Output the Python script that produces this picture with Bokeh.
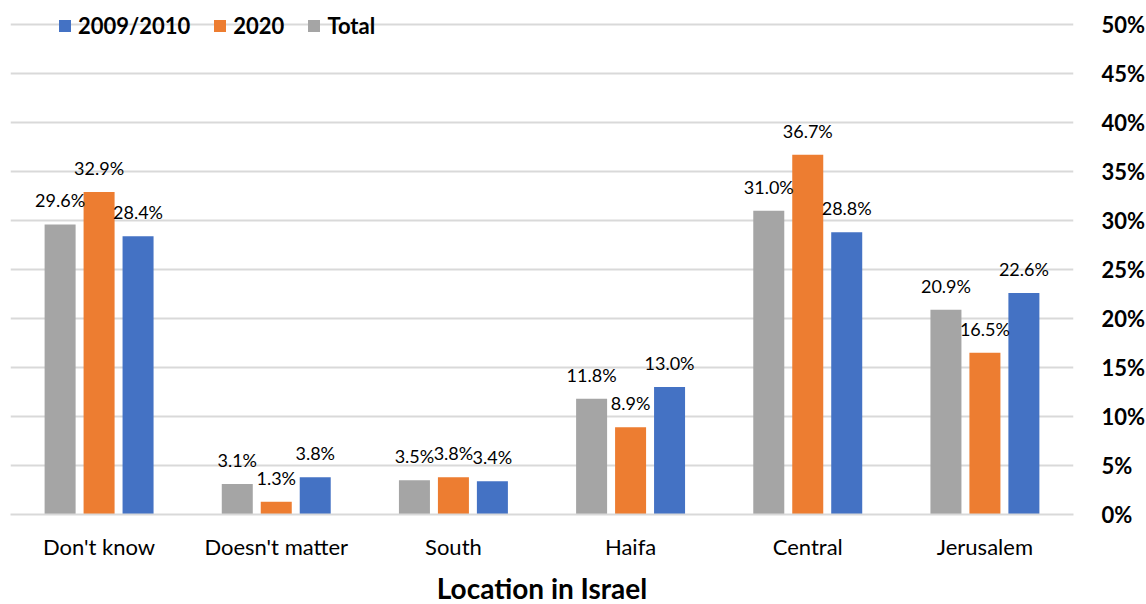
from bokeh.plotting import figure
from bokeh.models import ColumnDataSource, FactorRange, NumeralTickFormatter, Legend, LegendItem, LabelSet, FixedTicker
from bokeh.transform import dodge
from bokeh.core.properties import value
from bokeh.embed import file_html
from bokeh.resources import INLINE

categories = ["Don't know", "Doesn't matter", "South", "Haifa", "Central", "Jerusalem"]
total = [29.6, 3.1, 3.5, 11.8, 31.0, 20.9]
y2020 = [32.9, 1.3, 3.8, 8.9, 36.7, 16.5]
y2009 = [28.4, 3.8, 3.4, 13.0, 28.8, 22.6]
y_ticks = [0, 5, 10, 15, 20, 25, 30, 35, 40, 45, 50]

FONT = "Lato"
src = ColumnDataSource(dict(
    cat=categories,
    total=[v / 100 for v in total],
    y2020=[v / 100 for v in y2020],
    y2009=[v / 100 for v in y2009],
    total_lbl=[f"{v:.1f}%" for v in total],
    y2020_lbl=[f"{v:.1f}%" for v in y2020],
    y2009_lbl=[f"{v:.1f}%" for v in y2009],
))

p = figure(frame_width=1063, frame_height=504, x_range=FactorRange(*categories, range_padding=0),
           y_range=(0, 0.5143), output_backend="svg", toolbar_location=None,
           y_axis_location="right", min_border_left=10, min_border_right=0,
           min_border_top=10, min_border_bottom=0)
p.outline_line_color = None

W = 0.175
OFF = 0.22
series = [("total", -OFF, "#A5A5A5"), ("y2020", 0.0, "#ED7D31"), ("y2009", OFF, "#4472C4")]
rends = {}
for key, off, col in series:
    r = p.vbar(x=dodge("cat", off, range=p.x_range), top=key, width=W, source=src,
               fill_color=col, line_color=None)
    rends[key] = r
    lbl = LabelSet(x=dodge("cat", off, range=p.x_range), y=key, text=key + "_lbl", source=src,
                   text_align="center", text_baseline="bottom", y_offset=13,
                   text_font=value(FONT), text_font_size="18px", text_color="#000000")
    p.add_layout(lbl)

legend = Legend(items=[LegendItem(label="2009/2010", renderers=[rends["y2009"]]),
                       LegendItem(label="2020", renderers=[rends["y2020"]]),
                       LegendItem(label="Total", renderers=[rends["total"]])],
                orientation="horizontal", location=(47, 475),
                background_fill_alpha=0, border_line_color=None,
                label_text_font=FONT, label_text_font_size="22px", label_text_font_style="bold",
                label_text_color="#000000", label_text_line_height=1.0,
                glyph_width=15, glyph_height=15, spacing=22, label_standoff=6, padding=2, margin=0)
p.add_layout(legend)

p.yaxis.ticker = FixedTicker(ticks=[t / 100 for t in y_ticks])
p.yaxis.formatter = NumeralTickFormatter(format="0%")
p.yaxis.axis_line_color = None
p.yaxis.major_tick_line_color = None
p.yaxis.minor_tick_line_color = None
p.yaxis.major_label_standoff = 22
p.yaxis.major_label_text_font = FONT
p.yaxis.major_label_text_font_size = "22px"
p.yaxis.major_label_text_font_style = "bold"
p.yaxis.major_label_text_color = "#000000"

p.ygrid.grid_line_color = "#D9D9D9"
p.ygrid.grid_line_width = 2
p.xgrid.grid_line_color = None

p.xaxis.axis_line_color = "#D9D9D9"
p.xaxis.axis_line_width = 2
p.xaxis.major_tick_line_color = None
p.xaxis.minor_tick_line_color = None
p.xaxis.major_label_standoff = 12
p.xaxis.major_label_text_font = FONT
p.xaxis.major_label_text_font_size = "22px"
p.xaxis.major_label_text_line_height = 1.0
p.xaxis.major_label_text_color = "#000000"
p.xaxis.axis_label = "Location in Israel"
p.xaxis.axis_label_text_font = FONT
p.xaxis.axis_label_text_font_size = "28px"
p.xaxis.axis_label_text_font_style = "bold"
p.xaxis.axis_label_text_line_height = 1.0
p.xaxis.axis_label_standoff = 8
p.xaxis.axis_label_text_color = "#000000"

open("out.html", "w").write(file_html(p, INLINE))
